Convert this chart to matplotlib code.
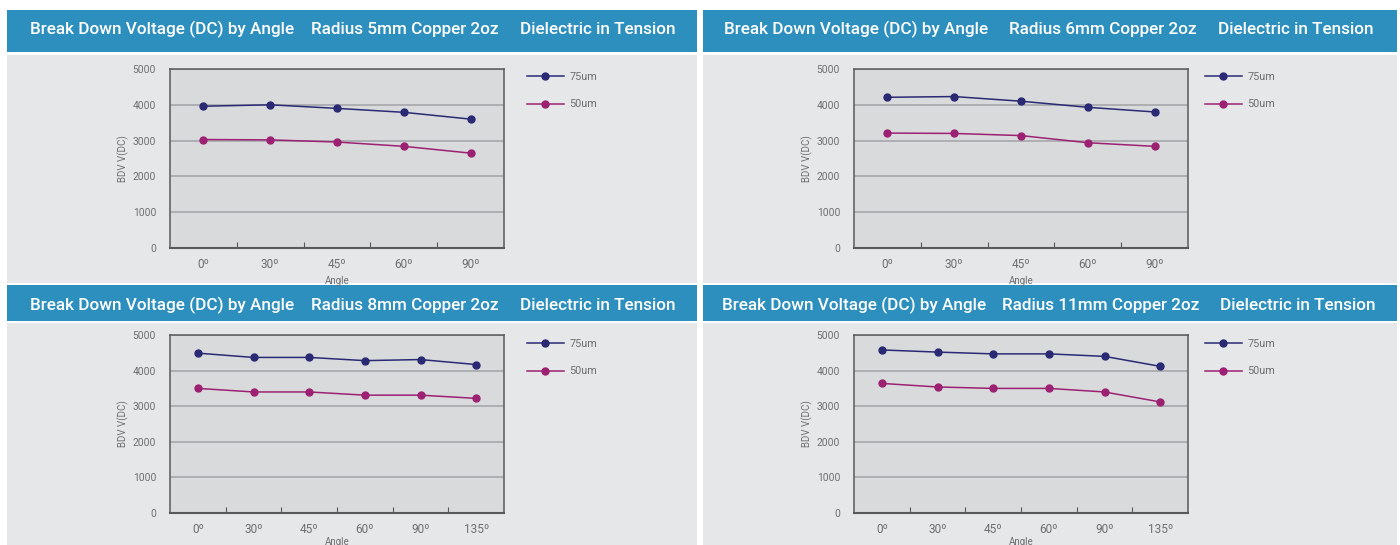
import matplotlib
matplotlib.use('Agg')
import matplotlib.pyplot as plt
from matplotlib.patches import Rectangle

# data
angles_a = ['0º', '30º', '45º', '60º', '90º']
angles_b = ['0º', '30º', '45º', '60º', '90º', '135º']

r5_75 = [3960, 4000, 3900, 3790, 3600]
r5_50 = [3030, 3020, 2960, 2840, 2650]
r6_75 = [4210, 4230, 4100, 3930, 3800]
r6_50 = [3210, 3200, 3140, 2940, 2840]
r8_75 = [4490, 4370, 4370, 4280, 4310, 4170]
r8_50 = [3500, 3400, 3400, 3310, 3310, 3220]
r11_75 = [4580, 4520, 4470, 4470, 4400, 4120]
r11_50 = [3640, 3540, 3500, 3500, 3400, 3120]

series_names = ['75um', '50um']
title_left = 'Break Down Voltage (DC) by Angle'
title_mid = ['Radius 5mm Copper 2oz', 'Radius 6mm Copper 2oz',
             'Radius 8mm Copper 2oz', 'Radius 11mm Copper 2oz']
title_right = 'Dielectric in Tension'
y_ticks = [0, 1000, 2000, 3000, 4000, 5000]

W, H = 1400, 545
HEAD = '#2C8FBE'
PANEL = '#E6E7E8'
PLOTBG = '#D9DADC'
NAVY = '#2A2A74'
MAG = '#9C2172'
TXT = '#6D6E71'

plt.rcParams['font.family'] = ['Roboto', 'DejaVu Sans']

fig = plt.figure(figsize=(14, 5.45), dpi=100)
fig.patch.set_facecolor('white')


def fx(x):
    return x / W


def fy(y):
    return 1 - y / H


def box(x0, y0, x1, y1, color):
    fig.patches.append(Rectangle((fx(x0), fy(y1)), fx(x1) - fx(x0), fy(y0) - fy(y1),
                                 transform=fig.transFigure, color=color, lw=0, zorder=-5))


def draw_panel(p, cats, v75, v50, mid):
    # p: dict of pixel positions
    x0, x1 = p['x0'], p['x1']
    box(x0, p['h0'], x1, p['h1'], HEAD)
    box(x0, p['g0'], x1, p['g1'], PANEL)
    for tx, s in zip(p['tx'], [title_left, mid, title_right]):
        fig.text(fx(tx), fy(p['base']), s, color='white', fontsize=12.3,
                 fontweight='medium', ha='left', va='baseline')

    ax0, ax1, ay0, ay1 = p['ax']
    ax = fig.add_axes([fx(ax0), fy(ay1), fx(ax1) - fx(ax0), fy(ay0) - fy(ay1)])
    ax.set_facecolor(PLOTBG)
    xs = list(range(len(cats)))
    ax.plot(xs, v75, color=NAVY, lw=1.1, marker='o', ms=5, label=series_names[0], zorder=3)
    ax.plot(xs, v50, color=MAG, lw=1.1, marker='o', ms=5, label=series_names[1], zorder=3)
    ax.set_xlim(-0.5, len(cats) - 0.5)
    ax.set_ylim(0, 5000)
    ax.set_yticks(y_ticks)
    ax.set_yticklabels([str(t) for t in y_ticks])
    ax.set_xticks(xs)
    ax.set_xticklabels(cats)
    ax.set_xticks([i + 0.5 for i in xs[:-1]], minor=True)
    ax.tick_params(axis='y', length=0, pad=10, labelsize=7.4, labelcolor=TXT)
    ax.tick_params(axis='x', which='major', length=0, pad=7, labelsize=8.5, labelcolor=TXT)
    ax.tick_params(axis='x', which='minor', direction='in', length=4, color='#58595B', width=0.8)
    ax.grid(axis='y', color='#A5A7AA', lw=1.2)
    ax.set_axisbelow(True)
    for s in ax.spines.values():
        s.set_color('#58595B')
        s.set_linewidth(1.1)
    ax.spines['bottom'].set_linewidth(1.5)
    ax.set_ylabel('BDV V(DC)', fontsize=7, color=TXT, labelpad=3)
    ax.set_xlabel('Angle', fontsize=7, color=TXT, labelpad=p['xlpad'])
    lx, ly = p['leg']
    ax.legend(loc='upper left', bbox_to_anchor=(fx(lx), fy(ly)),
              bbox_transform=fig.transFigure, frameon=False, fontsize=7.8,
              labelcolor=TXT, handlelength=3.4, handletextpad=0.5,
              labelspacing=1.6, borderpad=0, borderaxespad=0)


panels = [
    dict(x0=7, x1=697, h0=10, h1=52, g0=55, g1=283, base=34, tx=[30, 311, 520],
         ax=(170, 504, 69, 248), leg=(527, 72), xlpad=4),
    dict(x0=703, x1=1397, h0=10, h1=52, g0=55, g1=283, base=34, tx=[724, 1009, 1218],
         ax=(854, 1188, 69, 248), leg=(1205, 72), xlpad=4),
    dict(x0=7, x1=697, h0=285, h1=321, g0=323, g1=545, base=310, tx=[30, 311, 520],
         ax=(170, 504, 335, 513), leg=(527, 339), xlpad=1),
    dict(x0=703, x1=1397, h0=285, h1=321, g0=323, g1=545, base=310, tx=[722, 1002, 1220],
         ax=(854, 1188, 335, 513), leg=(1205, 339), xlpad=1),
]

draw_panel(panels[0], angles_a, r5_75, r5_50, title_mid[0])
draw_panel(panels[1], angles_a, r6_75, r6_50, title_mid[1])
draw_panel(panels[2], angles_b, r8_75, r8_50, title_mid[2])
draw_panel(panels[3], angles_b, r11_75, r11_50, title_mid[3])

fig.savefig('out.png', dpi=100, facecolor=fig.get_facecolor())
